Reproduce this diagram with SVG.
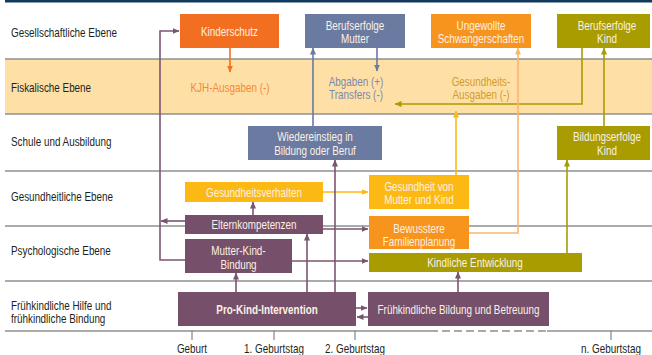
<svg xmlns="http://www.w3.org/2000/svg" width="652" height="355" viewBox="0 0 652 355">
<defs>
<style>
text{font-family:"Liberation Sans",Arial,sans-serif;font-size:13px}
.lbl{fill:#231f20}
.bt{fill:#fbf1e4;text-anchor:middle}
.mid{text-anchor:middle}
.row{stroke:#8f8f8f;stroke-width:1.3;fill:none}
.c{fill:none;stroke-width:1.6}
.pu{stroke:#7a5572}
.ye{stroke:#fdb913}
.sl{stroke:#6b7aa1}
.or{stroke:#f26f21}
.lo{stroke:#fbb56c}
.ol{stroke:#a89c00}
</style>
<marker id="apu" markerWidth="7" markerHeight="6" refX="6.5" refY="3" orient="auto" markerUnits="userSpaceOnUse"><path d="M0,0L7,3L0,6z" fill="#7a5572"/></marker>
<marker id="aye" markerWidth="7" markerHeight="6" refX="6.5" refY="3" orient="auto" markerUnits="userSpaceOnUse"><path d="M0,0L7,3L0,6z" fill="#fdb913"/></marker>
<marker id="asl" markerWidth="7" markerHeight="6" refX="6.5" refY="3" orient="auto" markerUnits="userSpaceOnUse"><path d="M0,0L7,3L0,6z" fill="#6b7aa1"/></marker>
<marker id="aor" markerWidth="7" markerHeight="6" refX="6.5" refY="3" orient="auto" markerUnits="userSpaceOnUse"><path d="M0,0L7,3L0,6z" fill="#f26f21"/></marker>
<marker id="alo" markerWidth="7" markerHeight="6" refX="6.5" refY="3" orient="auto" markerUnits="userSpaceOnUse"><path d="M0,0L7,3L0,6z" fill="#fbb56c"/></marker>
<marker id="aol" markerWidth="7" markerHeight="6" refX="6.5" refY="3" orient="auto" markerUnits="userSpaceOnUse"><path d="M0,0L7,3L0,6z" fill="#a89c00"/></marker>
</defs>
<rect x="0" y="0" width="652" height="355" fill="#ffffff"/>
<g id="background">
<rect x="5" y="0" width="647" height="2.5" fill="#10395b"/>
<rect x="5" y="59" width="647" height="55" fill="#fee0a7"/>
<line class="row" x1="5" y1="59" x2="652" y2="59"/>
<line class="row" x1="5" y1="114" x2="652" y2="114" stroke-width="1.8" stroke="#a8a8a8"/>
<line class="row" x1="5" y1="171" x2="652" y2="171"/>
<line class="row" x1="5" y1="226" x2="652" y2="226"/>
<line class="row" x1="5" y1="281" x2="652" y2="281"/>
<line class="row" x1="5" y1="331" x2="430" y2="331"/>
<line class="row" x1="430" y1="331" x2="547" y2="331" stroke-dasharray="8 4"/>
<line class="row" x1="547" y1="331" x2="652" y2="331"/>
<line class="row" x1="192" y1="330" x2="192" y2="340"/>
<line class="row" x1="274" y1="330" x2="274" y2="340"/>
<line class="row" x1="355" y1="330" x2="355" y2="340"/>
<line class="row" x1="611" y1="330" x2="611" y2="340"/>
</g>
<g id="row-labels">
<text transform="matrix(.76 0 0 1 11 36.5)" class="lbl">Gesellschaftliche Ebene</text>
<text transform="matrix(.76 0 0 1 11 91.5)" class="lbl">Fiskalische Ebene</text>
<text transform="matrix(.76 0 0 1 11 145.5)" class="lbl">Schule und Ausbildung</text>
<text transform="matrix(.76 0 0 1 11 200.5)" class="lbl">Gesundheitliche Ebene</text>
<text transform="matrix(.76 0 0 1 11 254.5)" class="lbl">Psychologische Ebene</text>
<text transform="matrix(.76 0 0 1 11 309.5)" class="lbl">Frühkindliche Hilfe und</text>
<text transform="matrix(.76 0 0 1 11 322.5)" class="lbl">frühkindliche Bindung</text>
</g>
<g id="axis-labels">
<text transform="matrix(.76 0 0 1 192 353)" class="lbl mid">Geburt</text>
<text transform="matrix(.76 0 0 1 274 353)" class="lbl mid">1. Geburtstag</text>
<text transform="matrix(.76 0 0 1 355 353)" class="lbl mid">2. Geburtstag</text>
<text transform="matrix(.76 0 0 1 611 353)" class="lbl mid">n. Geburtstag</text>
</g>
<g id="connectors">
<path class="c pu" d="M185,260H160V31H179" marker-end="url(#apu)"/>
<path class="c pu" d="M185,221H161" marker-end="url(#apu)"/>
<path class="c pu" d="M253,215V202" marker-end="url(#apu)"/>
<path class="c ye" d="M323,192H368" marker-end="url(#aye)"/>
<path class="c pu" d="M323,229H368" marker-end="url(#apu)"/>
<path class="c pu" d="M292,261H368" marker-end="url(#apu)"/>
<path class="c pu" d="M236,292V273" marker-end="url(#apu)"/>
<path class="c pu" d="M307,292V234" marker-end="url(#apu)"/>
<path class="c pu" d="M335,292V160" marker-end="url(#apu)"/>
<path class="c pu" d="M356,308H367" marker-end="url(#apu)"/>
<path class="c pu" d="M368,317H357" marker-end="url(#apu)"/>
<path class="c pu" d="M458,292V272" marker-end="url(#apu)"/>
<path class="c ol" d="M567,253V160" marker-end="url(#aol)"/>
<path class="c ol" d="M604,126V48" marker-end="url(#aol)"/>
<path class="c ol" d="M582,48V104H395" marker-end="url(#aol)"/>
<path class="c ye" d="M456,175V111" marker-end="url(#aye)"/>
<path class="c lo" d="M469,233H518V48" marker-end="url(#alo)"/>
<path class="c sl" d="M377,48V71" marker-end="url(#asl)"/>
<path class="c sl" d="M313,126V48" marker-end="url(#asl)"/>
<path class="c or" d="M230,48V72" marker-end="url(#aor)"/>
</g>
<g id="kinderschutz"><rect x="180" y="14" width="99" height="34" fill="#f26f21"/><text transform="matrix(.76 0 0 1 229.5 35.5)" class="bt">Kinderschutz</text></g>
<g id="berufserfolge-mutter"><rect x="305" y="14" width="100" height="34" fill="#6b7aa1"/><text transform="matrix(.76 0 0 1 355 29.5)" class="bt">Berufserfolge</text><text transform="matrix(.76 0 0 1 355 42.5)" class="bt">Mutter</text></g>
<g id="ungewollte-schwangerschaften"><rect x="431" y="14" width="100" height="34" fill="#f7941d"/><text transform="matrix(.76 0 0 1 481 29.5)" class="bt">Ungewollte</text><text transform="matrix(.76 0 0 1 481 42.5)" class="bt">Schwangerschaften</text></g>
<g id="berufserfolge-kind"><rect x="557" y="14" width="93" height="34" fill="#a89c00"/><text transform="matrix(.76 0 0 1 607 29.5)" class="bt">Berufserfolge</text><text transform="matrix(.76 0 0 1 607 42.5)" class="bt">Kind</text></g>
<g id="kjh-ausgaben"><text transform="matrix(.76 0 0 1 230 91.5)" class="mid" fill="#f5883a">KJH-Ausgaben (-)</text></g>
<g id="abgaben-transfers"><text transform="matrix(.76 0 0 1 356 86)" class="mid" fill="#7b88ad">Abgaben (+)</text><text transform="matrix(.76 0 0 1 356 99)" class="mid" fill="#7b88ad">Transfers (-)</text></g>
<g id="gesundheitsausgaben"><text transform="matrix(.76 0 0 1 481 86)" class="mid" fill="#d29c2c">Gesundheits-</text><text transform="matrix(.76 0 0 1 481 99)" class="mid" fill="#d29c2c">Ausgaben (-)</text></g>
<g id="wiedereinstieg"><rect x="248" y="126" width="134" height="34" fill="#6b7aa1"/><text transform="matrix(.76 0 0 1 315 140.5)" class="bt">Wiedereinstieg in</text><text transform="matrix(.76 0 0 1 315 155)" class="bt">Bildung oder Beruf</text></g>
<g id="bildungserfolge-kind"><rect x="557" y="126" width="93" height="34" fill="#a89c00"/><text transform="matrix(.76 0 0 1 607 140.5)" class="bt">Bildungserfolge</text><text transform="matrix(.76 0 0 1 607 155)" class="bt">Kind</text></g>
<g id="gesundheitsverhalten"><rect x="185" y="182" width="138" height="20" fill="#fdb913"/><text transform="matrix(.76 0 0 1 254 196.5)" class="bt">Gesundheitsverhalten</text></g>
<g id="gesundheit-mutter-kind"><rect x="369" y="175" width="100" height="34" fill="#fdb913"/><text transform="matrix(.76 0 0 1 419 190.5)" class="bt">Gesundheit von</text><text transform="matrix(.76 0 0 1 419 203.5)" class="bt">Mutter und Kind</text></g>
<g id="elternkompetenzen"><rect x="185" y="215" width="138" height="19" fill="#76506b"/><text transform="matrix(.76 0 0 1 254 229)" class="bt">Elternkompetenzen</text></g>
<g id="familienplanung"><rect x="369" y="216" width="100" height="33" fill="#f7941d"/><text transform="matrix(.76 0 0 1 419 232.5)" class="bt">Bewusstere</text><text transform="matrix(.76 0 0 1 419 245.5)" class="bt">Familienplanung</text></g>
<g id="mutter-kind-bindung"><rect x="185" y="239" width="107" height="34" fill="#76506b"/><text transform="matrix(.76 0 0 1 238.5 254.5)" class="bt">Mutter-Kind-</text><text transform="matrix(.76 0 0 1 238.5 268.5)" class="bt">Bindung</text></g>
<g id="kindliche-entwicklung"><rect x="369" y="253" width="213" height="19" fill="#a89c00"/><text transform="matrix(.76 0 0 1 475 267)" class="bt">Kindliche Entwicklung</text></g>
<g id="pro-kind"><rect x="178" y="292" width="178" height="34" fill="#76506b"/><text transform="matrix(.76 0 0 1 267 314)" class="bt" font-weight="bold">Pro-Kind-Intervention</text></g>
<g id="fruehkindliche-bildung"><rect x="368" y="292" width="181" height="34" fill="#76506b"/><text transform="matrix(.76 0 0 1 458.5 314)" class="bt">Frühkindliche Bildung und Betreuung</text></g>
</svg>
